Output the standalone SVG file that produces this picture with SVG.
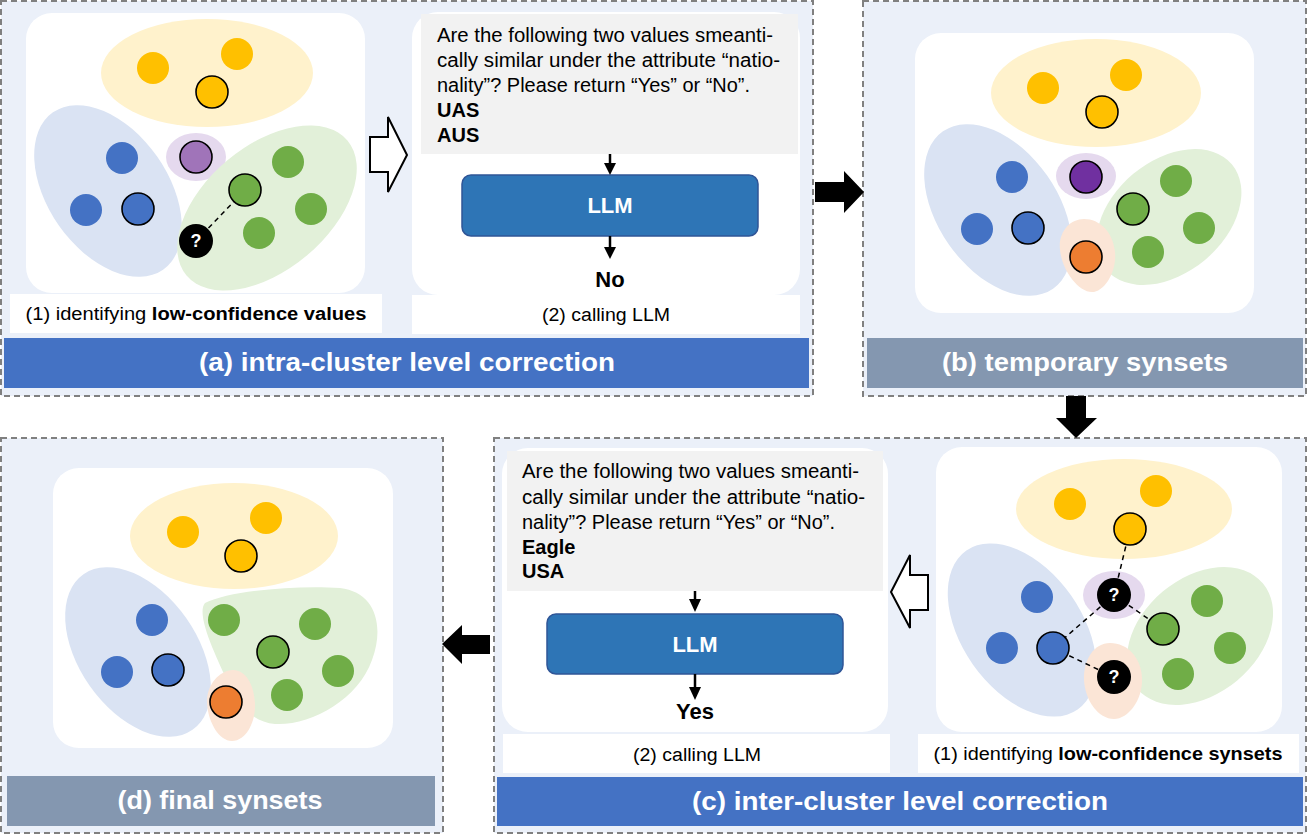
<svg xmlns="http://www.w3.org/2000/svg" width="1308" height="836" viewBox="0 0 1308 836">
<style>
.panel{fill:#EBF0F9;stroke:#808080;stroke-width:2;stroke-dasharray:6 4}
.white{fill:#FFFFFF}
.gray{fill:#F2F2F2}
.barA{fill:#4472C4}
.barB{fill:#8497B0}
.title{font-family:"Liberation Sans",Arial,sans-serif;font-weight:bold;font-size:26px;fill:#FFFFFF;text-anchor:middle}
.cap{font-family:"Liberation Sans",Arial,sans-serif;font-size:18px;fill:#000000;text-anchor:middle}
.pr{font-family:"Liberation Sans",Arial,sans-serif;font-size:20px;fill:#000000}
.prb{font-family:"Liberation Sans",Arial,sans-serif;font-size:20px;font-weight:bold;fill:#000000}
.ans{font-family:"Liberation Sans",Arial,sans-serif;font-size:22px;font-weight:bold;fill:#000000;text-anchor:middle}
.llm{fill:#2E75B6;stroke:#2F5597;stroke-width:1.5}
.llmt{font-family:"Liberation Sans",Arial,sans-serif;font-size:22px;font-weight:bold;fill:#FFFFFF;text-anchor:middle}
.yc{fill:#FFF2CC}.bc{fill:#DAE3F3}.gc{fill:#E2F0D9}.pc{fill:#E5D9EE}.oc{fill:#FBE5D6}
.yd{fill:#FFC000}.bd{fill:#4472C4}.gd{fill:#70AD47}.od{fill:#ED7D31}.pd1{fill:#A074B9}.pd2{fill:#7030A0}
.ol{stroke:#000000;stroke-width:1.6}
.q{fill:#000000}
.qt{font-family:"Liberation Sans",Arial,sans-serif;font-size:18px;font-weight:bold;fill:#FFFFFF;text-anchor:middle}
.dash{stroke:#000000;stroke-width:1.5;stroke-dasharray:5 4;fill:none}
.sline{stroke:#000000;stroke-width:2.5}
.harrow{fill:#FFFFFF;stroke:#000000;stroke-width:2;stroke-linejoin:miter}
.barrow{fill:#000000}
</style>

<!-- Panel (a) -->
<g id="panel-a">
  <rect class="panel" x="1" y="1" width="812" height="395"/>
  <rect class="barA" x="4" y="338" width="805" height="50"/>
  <text class="title" x="407" y="371" textLength="416" lengthAdjust="spacingAndGlyphs">(a) intra-cluster level correction</text>
</g>
<g id="a1-clusters">
  <rect class="white" x="26" y="13" width="339" height="280" rx="26"/>
  <ellipse class="yc" cx="207" cy="73" rx="106" ry="54"/>
  <ellipse class="bc" cx="108" cy="191" rx="96" ry="60" transform="rotate(55 108 191)"/>
  <ellipse class="pc" cx="196" cy="157" rx="30" ry="24"/>
  <ellipse class="gc" cx="267" cy="208" rx="105" ry="62" transform="rotate(-40 267 208)"/>
  <line class="dash" x1="196" y1="241" x2="245" y2="190"/>
  <circle class="yd" cx="153" cy="68" r="16"/>
  <circle class="yd" cx="237" cy="54" r="16"/>
  <circle class="yd ol" cx="212" cy="92" r="16"/>
  <circle class="bd" cx="122" cy="158" r="16"/>
  <circle class="bd" cx="86" cy="210" r="16"/>
  <circle class="bd ol" cx="138" cy="209" r="16"/>
  <circle class="pd1 ol" cx="196" cy="157" r="16"/>
  <circle class="gd" cx="288" cy="162" r="16"/>
  <circle class="gd ol" cx="245" cy="190" r="16"/>
  <circle class="gd" cx="311" cy="209" r="16"/>
  <circle class="gd" cx="259" cy="233" r="16"/>
  <circle class="q" cx="196" cy="241" r="17"/>
  <text class="qt" x="196" y="247">?</text>
  <rect class="white" x="10" y="294" width="372" height="39"/>
  <text class="cap" x="196" y="320" textLength="341" lengthAdjust="spacingAndGlyphs">(1) identifying <tspan font-weight="bold">low-confidence values</tspan></text>
</g>
<g id="a2-llm">
  <rect class="white" x="412" y="12" width="388" height="283" rx="26"/>
  <rect class="gray" x="421" y="14" width="377" height="140"/>
  <text class="pr" x="437" y="42" textLength="336" lengthAdjust="spacingAndGlyphs">Are the following two values smeanti-</text>
  <text class="pr" x="437" y="67" textLength="343" lengthAdjust="spacingAndGlyphs">cally similar under the attribute “natio-</text>
  <text class="pr" x="437" y="92" textLength="313" lengthAdjust="spacingAndGlyphs">nality”? Please return “Yes” or “No”.</text>
  <text class="prb" x="437" y="117">UAS</text>
  <text class="prb" x="437" y="142">AUS</text>
  <rect class="llm" x="462" y="175" width="296" height="61" rx="9"/>
  <text class="llmt" x="610" y="213">LLM</text>
  <text class="ans" x="610" y="287">No</text>
  <rect class="white" x="412" y="295" width="388" height="39"/>
  <text class="cap" x="606" y="321" textLength="128" lengthAdjust="spacingAndGlyphs">(2) calling LLM</text>
</g>

<!-- Panel (b) -->
<g id="panel-b">
  <rect class="panel" x="863" y="1" width="443" height="395"/>
  <rect class="white" x="915" y="33" width="339" height="280" rx="26"/>
  <ellipse class="yc" cx="1096" cy="93" rx="105" ry="54"/>
  <ellipse class="bc" cx="998" cy="210" rx="96" ry="60" transform="rotate(55 998 210)"/>
  <ellipse class="pc" cx="1086" cy="176" rx="30" ry="23"/>
  <ellipse class="gc" cx="1169" cy="217" rx="82" ry="56" transform="rotate(-40 1169 217)"/>
  <path class="oc" d="M1084,219 C1100,219 1113,232 1115,252 C1117,272 1104,292 1092,292 C1078,292 1062,270 1060,250 C1058,232 1070,219 1084,219 Z"/>
  <circle class="yd" cx="1043" cy="88" r="16"/>
  <circle class="yd" cx="1126" cy="75" r="16"/>
  <circle class="yd ol" cx="1102" cy="112" r="16"/>
  <circle class="bd" cx="1012" cy="177" r="16"/>
  <circle class="bd" cx="977" cy="229" r="16"/>
  <circle class="bd ol" cx="1028" cy="228" r="16"/>
  <circle class="pd2 ol" cx="1086" cy="177" r="16"/>
  <circle class="gd" cx="1176" cy="181" r="16"/>
  <circle class="gd ol" cx="1133" cy="209" r="16"/>
  <circle class="gd" cx="1199" cy="228" r="16"/>
  <circle class="gd" cx="1148" cy="252" r="16"/>
  <circle class="od ol" cx="1086" cy="257" r="16"/>
  <rect class="barB" x="867" y="338" width="436" height="50"/>
  <text class="title" x="1085" y="371" textLength="286" lengthAdjust="spacingAndGlyphs">(b) temporary synsets</text>
</g>

<!-- Panel (c) -->
<g id="panel-c">
  <rect class="panel" x="494" y="438" width="812" height="395"/>
  <rect class="barA" x="497" y="777" width="806" height="49"/>
  <text class="title" x="900" y="810" textLength="416" lengthAdjust="spacingAndGlyphs">(c) inter-cluster level correction</text>
</g>
<g id="c1-clusters">
  <rect class="white" x="936" y="447" width="346" height="285" rx="26"/>
  <ellipse class="yc" cx="1124" cy="509" rx="108" ry="50"/>
  <ellipse class="bc" cx="1022" cy="630" rx="97" ry="60" transform="rotate(55 1022 630)"/>
  <ellipse class="pc" cx="1114" cy="595" rx="31" ry="24"/>
  <ellipse class="gc" cx="1200" cy="636" rx="82" ry="58" transform="rotate(-40 1200 636)"/>
  <path class="oc" d="M1110,643 C1128,643 1141,658 1142,678 C1143,700 1128,719 1114,719 C1098,719 1085,700 1084,680 C1083,660 1094,643 1110,643 Z"/>
  <line class="dash" x1="1130" y1="529" x2="1114" y2="595"/>
  <line class="dash" x1="1114" y1="595" x2="1163" y2="629"/>
  <line class="dash" x1="1114" y1="595" x2="1053" y2="648"/>
  <line class="dash" x1="1053" y1="648" x2="1114" y2="677"/>
  <circle class="yd" cx="1070" cy="504" r="16"/>
  <circle class="yd" cx="1156" cy="491" r="16"/>
  <circle class="yd ol" cx="1130" cy="529" r="16"/>
  <circle class="bd" cx="1037" cy="597" r="16"/>
  <circle class="bd" cx="1002" cy="648" r="16"/>
  <circle class="bd ol" cx="1053" cy="648" r="16"/>
  <circle class="gd" cx="1207" cy="601" r="16"/>
  <circle class="gd ol" cx="1163" cy="629" r="16"/>
  <circle class="gd" cx="1230" cy="648" r="16"/>
  <circle class="gd" cx="1178" cy="674" r="16"/>
  <circle class="q" cx="1114" cy="595" r="17"/>
  <text class="qt" x="1114" y="601">?</text>
  <circle class="q" cx="1114" cy="677" r="17"/>
  <text class="qt" x="1114" y="683">?</text>
  <rect class="white" x="918" y="734" width="381" height="39"/>
  <text class="cap" x="1108" y="760" textLength="349" lengthAdjust="spacingAndGlyphs">(1) identifying <tspan font-weight="bold">low-confidence synsets</tspan></text>
</g>
<g id="c2-llm">
  <rect class="white" x="502" y="448" width="386" height="284" rx="26"/>
  <rect class="gray" x="507" y="451" width="376" height="140"/>
  <text class="pr" x="522" y="478" textLength="337" lengthAdjust="spacingAndGlyphs">Are the following two values smeanti-</text>
  <text class="pr" x="522" y="504" textLength="343" lengthAdjust="spacingAndGlyphs">cally similar under the attribute “natio-</text>
  <text class="pr" x="522" y="529" textLength="313" lengthAdjust="spacingAndGlyphs">nality”? Please return “Yes” or “No”.</text>
  <text class="prb" x="522" y="554">Eagle</text>
  <text class="prb" x="522" y="578">USA</text>
  <rect class="llm" x="547" y="614" width="296" height="60" rx="9"/>
  <text class="llmt" x="695" y="652">LLM</text>
  <text class="ans" x="695" y="719">Yes</text>
  <rect class="white" x="503" y="734" width="387" height="39"/>
  <text class="cap" x="697" y="761" textLength="128" lengthAdjust="spacingAndGlyphs">(2) calling LLM</text>
</g>

<!-- Panel (d) -->
<g id="panel-d">
  <rect class="panel" x="1" y="438" width="442" height="395"/>
  <rect class="white" x="53" y="468" width="340" height="280" rx="26"/>
  <ellipse class="yc" cx="234" cy="536" rx="104" ry="53"/>
  <ellipse class="bc" cx="138" cy="652" rx="95" ry="59" transform="rotate(55 138 652)"/>
  <path class="gc" d="M205,603 C230,590 300,585 340,588 C375,592 385,625 372,660 C358,700 310,726 275,724 C250,722 235,700 228,683 C218,660 195,615 205,603 Z"/>
  <path class="oc" d="M233,670 C246,670 254,685 255,703 C256,722 246,741 232,741 C219,741 208,722 207,703 C206,685 220,670 233,670 Z"/>
  <circle class="yd" cx="183" cy="532" r="16"/>
  <circle class="yd" cx="266" cy="518" r="16"/>
  <circle class="yd ol" cx="241" cy="556" r="16"/>
  <circle class="bd" cx="152" cy="620" r="16"/>
  <circle class="bd" cx="117" cy="672" r="16"/>
  <circle class="bd ol" cx="168" cy="670" r="16"/>
  <circle class="gd" cx="224" cy="620" r="16"/>
  <circle class="gd" cx="315" cy="624" r="16"/>
  <circle class="gd ol" cx="273" cy="652" r="16"/>
  <circle class="gd" cx="338" cy="671" r="16"/>
  <circle class="gd" cx="287" cy="695" r="16"/>
  <circle class="od ol" cx="226" cy="702" r="16"/>
  <rect class="barB" x="7" y="776" width="428" height="50"/>
  <text class="title" x="220" y="809" textLength="205" lengthAdjust="spacingAndGlyphs">(d) final synsets</text>
</g>

<!-- Connectors -->
<g id="connectors">
  <polygon class="harrow" points="370,137 388,137 388,117 407,155 388,192 388,172 370,172"/>
  <polygon class="harrow" points="928,575 910,575 910,555 891,592 910,628 910,610 928,610"/>
  <polygon class="barrow" points="815,182 844,182 844,171 864,192 844,213 844,202 815,202"/>
  <polygon class="barrow" points="1066,396 1086,396 1086,418 1097,418 1076,438 1056,418 1066,418"/>
  <polygon class="barrow" points="490,635 462,635 462,625 442,644 462,664 462,654 490,654"/>
  <line class="sline" x1="610" y1="154" x2="610" y2="164"/>
  <polygon class="barrow" points="604,163 616,163 610,175"/>
  <line class="sline" x1="610" y1="236" x2="610" y2="248"/>
  <polygon class="barrow" points="604,247 616,247 610,259"/>
  <line class="sline" x1="695" y1="591" x2="695" y2="600"/>
  <polygon class="barrow" points="689,599 701,599 695,612"/>
  <line class="sline" x1="695" y1="674" x2="695" y2="688"/>
  <polygon class="barrow" points="689,687 701,687 695,700"/>
</g>
</svg>
